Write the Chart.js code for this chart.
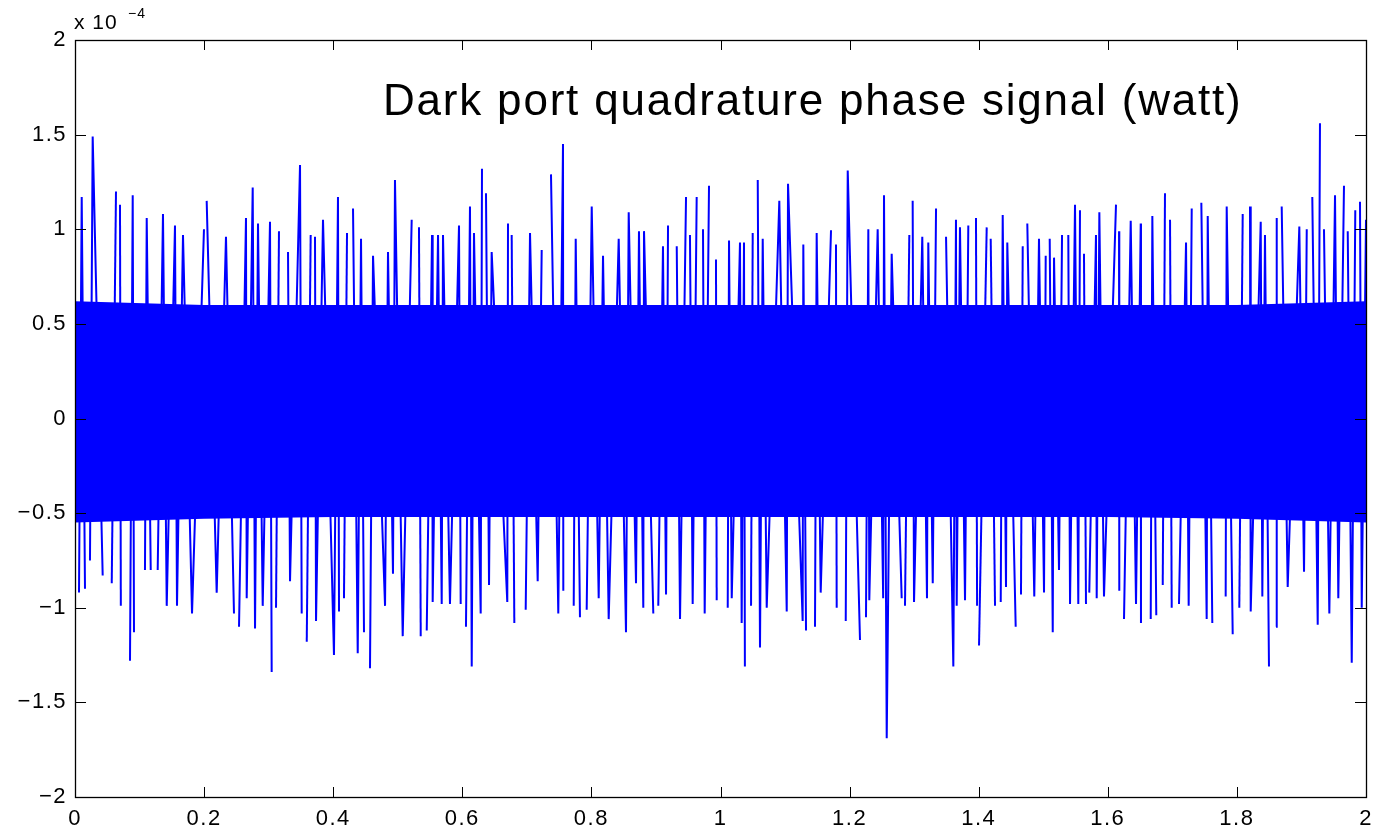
<!DOCTYPE html>
<html>
<head>
<meta charset="utf-8">
<script src="https://cdn.jsdelivr.net/npm/chart.js@4.4.0/dist/chart.umd.min.js"></script>
<style>
  html, body { margin: 0; padding: 0; background: #fff; }
  #wrap { width: 1387px; height: 830px; }
</style>
</head>
<body>
<div id="wrap"><canvas id="chart" width="1387" height="830"></canvas></div>
<script>
// time (s) and value (x 1e-4 W) of the positive spikes
const upperTimes = [0.0104,0.0274,0.0635,0.0697,0.0894,0.1111,0.1363,0.1549,0.1673,0.1998,0.2040,0.2339,0.2649,0.2753,0.2835,0.3021,0.3160,0.3300,0.3486,0.3651,0.3718,0.3842,0.4074,0.4214,0.4307,0.4431,0.4617,0.4849,0.4957,0.5216,0.5294,0.5329,0.5531,0.5624,0.5701,0.5949,0.6119,0.6181,0.6305,0.6367,0.6455,0.6708,0.6765,0.7049,0.7230,0.7374,0.7560,0.7757,0.8005,0.8180,0.8423,0.8578,0.8737,0.8815,0.9109,0.9187,0.9322,0.9466,0.9527,0.9631,0.9729,0.9822,0.9930,1.0132,1.0302,1.0364,1.0499,1.0577,1.0654,1.0911,1.1046,1.1283,1.1490,1.1712,1.1789,1.1971,1.2290,1.2435,1.2533,1.2652,1.2925,1.2977,1.3126,1.3219,1.3339,1.3427,1.3494,1.3648,1.3710,1.3839,1.3958,1.4124,1.4186,1.4372,1.4443,1.4682,1.4753,1.4934,1.5038,1.5100,1.5167,1.5291,1.5388,1.5492,1.5569,1.5631,1.5817,1.5869,1.6127,1.6174,1.6355,1.6510,1.6690,1.6886,1.6964,1.7212,1.7300,1.7397,1.7449,1.7548,1.7842,1.8090,1.8203,1.8369,1.8435,1.8617,1.8694,1.8967,1.9082,1.9168,1.9287,1.9349,1.9520,1.9659,1.9717,1.9834,1.9907,2.0000];
const upperPeaks = [1.17,1.49,1.20,1.13,1.18,1.06,1.08,1.02,0.97,1.00,1.15,0.96,1.06,1.22,1.03,1.04,0.99,0.88,1.34,0.97,0.96,1.05,1.17,0.98,1.11,0.95,0.86,0.88,1.26,1.05,1.14,1.01,0.97,0.97,0.97,1.02,1.12,0.98,1.32,1.19,0.88,1.03,0.97,0.98,0.89,1.29,1.45,0.95,1.12,0.86,0.95,1.09,0.99,0.99,0.91,1.02,0.91,1.17,0.97,1.17,1.00,1.23,0.84,0.94,0.93,0.93,0.98,1.26,0.95,1.15,1.24,0.92,0.98,0.995,0.92,1.31,1.00,1.00,1.18,0.87,0.97,1.15,0.96,0.93,1.11,0.96,0.96,1.05,1.01,1.02,1.06,1.01,0.95,1.075,0.93,0.91,1.03,0.95,0.86,0.95,0.85,0.97,0.97,1.13,1.10,0.87,0.97,1.09,1.13,0.99,1.045,1.03,1.07,1.19,1.05,0.93,1.11,1.20,1.14,1.07,1.12,1.08,1.12,1.04,0.97,1.06,1.12,1.015,1.00,1.17,1.56,1.00,1.18,1.23,0.99,1.10,1.145,1.05];

// time (s) and value of the negative spikes
const lowerTimes = [0.0015,0.0062,0.0155,0.0232,0.0429,0.0569,0.0710,0.0790,0.0852,0.0914,0.1084,0.1173,0.1281,0.1421,0.1580,0.1813,0.2195,0.2463,0.2541,0.2660,0.2789,0.2908,0.3047,0.3114,0.3331,0.3512,0.3590,0.3734,0.4012,0.4090,0.4167,0.4380,0.4477,0.4570,0.4803,0.4926,0.5077,0.5356,0.5449,0.5541,0.5681,0.5809,0.5975,0.6057,0.6146,0.6285,0.6414,0.6697,0.6806,0.6982,0.7168,0.7487,0.7565,0.7726,0.7823,0.7927,0.8113,0.8268,0.8536,0.8691,0.8804,0.8959,0.9036,0.9156,0.9373,0.9569,0.9755,0.9941,1.0112,1.0174,1.0328,1.0378,1.0473,1.0612,1.0716,1.1026,1.1273,1.1325,1.1397,1.1464,1.1552,1.1800,1.1862,1.1940,1.2161,1.2254,1.2305,1.2520,1.2575,1.2807,1.2858,1.2998,1.3199,1.3288,1.3607,1.3659,1.3788,1.3975,1.4005,1.4253,1.4341,1.4423,1.4573,1.4655,1.4861,1.5012,1.5147,1.5244,1.5415,1.5543,1.5662,1.5713,1.5828,1.5941,1.6178,1.6251,1.6437,1.6514,1.6665,1.6751,1.6851,1.6990,1.7103,1.7253,1.7532,1.7619,1.7826,1.7935,1.8037,1.8214,1.8394,1.8497,1.8606,1.8787,1.9040,1.9252,1.9432,1.9571,1.9779,1.9934];
const lowerPeaks = [-0.95,-0.92,-0.90,-0.75,-0.83,-0.87,-0.99,-0.89,-1.28,-1.13,-0.80,-0.80,-0.80,-0.99,-0.99,-1.03,-0.92,-1.03,-1.10,-0.95,-1.11,-0.99,-1.34,-1.00,-0.86,-1.03,-1.18,-1.07,-1.25,-1.02,-0.95,-1.24,-1.13,-1.32,-0.99,-0.82,-1.15,-1.15,-1.12,-0.97,-0.98,-0.98,-0.98,-1.10,-1.31,-1.03,-0.88,-0.97,-1.08,-1.01,-0.86,-1.03,-0.91,-0.99,-1.05,-1.01,-0.95,-1.06,-1.13,-0.87,-1.00,-1.03,-0.99,-0.93,-1.06,-0.98,-1.03,-0.96,-1.00,-0.95,-1.08,-1.31,-0.99,-1.21,-1.00,-1.02,-1.07,-1.12,-1.05,-1.10,-0.92,-1.00,-1.04,-1.07,-1.17,-1.05,-0.96,-0.95,-1.69,-0.95,-0.99,-0.97,-0.95,-0.87,-1.31,-0.99,-0.96,-0.99,-1.20,-0.99,-0.97,-0.89,-1.10,-0.93,-0.94,-0.92,-1.13,-0.80,-0.98,-0.98,-0.98,-0.92,-0.95,-0.94,-0.91,-1.06,-0.98,-1.08,-1.06,-1.04,-0.88,-1.00,-0.98,-0.99,-1.06,-1.08,-0.94,-1.14,-1.00,-1.02,-0.94,-1.31,-1.10,-0.89,-0.81,-1.09,-1.03,-0.95,-1.29,-1.00];

// edges of the solid core of the trace
const bandTimes  = [0, 0.2, 0.4, 0.6, 0.8, 1.0, 1.2, 1.4, 1.6, 1.8, 2.0];
const bandTop    = [0.62, 0.6, 0.6, 0.6, 0.6, 0.6, 0.6, 0.6, 0.6, 0.6, 0.62];
const bandBottom = [-0.55, -0.53, -0.52, -0.52, -0.52, -0.52, -0.52, -0.52, -0.52, -0.53, -0.55];

const xTicks = [0, 0.2, 0.4, 0.6, 0.8, 1, 1.2, 1.4, 1.6, 1.8, 2];
const yTicks = [-2, -1.5, -1, -0.5, 0, 0.5, 1, 1.5, 2];

const titleText = 'Dark port quadrature phase signal (watt)';
const FONT = "'Liberation Sans', Arial, Helvetica, sans-serif";
const BLUE = '#0000ff';

const signal = upperTimes.map((t, i) => ({ x: t, y: upperPeaks[i] }))
  .concat(lowerTimes.map((t, i) => ({ x: t, y: lowerPeaks[i] })))
  .sort((a, b) => a.x - b.x);

const fmt = v => {
  const s = String(Number(v.toFixed(1)));
  return v < 0 ? '\u2212' + s.slice(1) : s;
};

// slightly wider tick text, like the printed MATLAB font
const spacing = {
  id: 'spacing',
  beforeDraw(chart) { chart.ctx.letterSpacing = '1.5px'; }
};

// box, inward ticks, in-axes title and exponent label
const matlabFrame = {
  id: 'matlabFrame',
  afterDatasetsDraw(chart) {
    const { ctx, chartArea: a, scales } = chart;
    ctx.save();
    ctx.strokeStyle = '#000';
    ctx.lineWidth = 1;
    xTicks.forEach(t => {
      const px = Math.round(scales.x.getPixelForValue(t)) + 0.5;
      ctx.beginPath();
      ctx.moveTo(px, a.bottom); ctx.lineTo(px, a.bottom - 10);
      ctx.moveTo(px, a.top); ctx.lineTo(px, a.top + 10);
      ctx.stroke();
    });
    yTicks.forEach(t => {
      const py = Math.round(scales.y.getPixelForValue(t)) + 0.5;
      ctx.beginPath();
      ctx.moveTo(a.left, py); ctx.lineTo(a.left + 11, py);
      ctx.moveTo(a.right, py); ctx.lineTo(a.right - 11, py);
      ctx.stroke();
    });
    ctx.lineWidth = 1.3;
    ctx.strokeRect(a.left + 0.5, a.top + 0.5, a.right - a.left, a.bottom - a.top);

    ctx.fillStyle = '#000';
    ctx.textBaseline = 'alphabetic';
    ctx.textAlign = 'left';
    ctx.letterSpacing = '1.8px';
    ctx.font = '44px ' + FONT;
    ctx.fillText(titleText, 383, 115);
    ctx.letterSpacing = '1px';
    ctx.font = '21px ' + FONT;
    ctx.fillText('x 10', 74, 29);
    ctx.font = '14px ' + FONT;
    ctx.fillText('\u22124', 128, 18);
    ctx.restore();
  }
};

const ctx = document.getElementById('chart').getContext('2d');
new Chart(ctx, {
  type: 'line',
  data: {
    datasets: [
      {
        label: 'core top',
        data: bandTimes.map((t, i) => ({ x: t, y: bandTop[i] })),
        borderWidth: 0,
        pointRadius: 0,
        backgroundColor: BLUE,
        fill: '+1'
      },
      {
        label: 'core bottom',
        data: bandTimes.map((t, i) => ({ x: t, y: bandBottom[i] })),
        borderWidth: 0,
        pointRadius: 0,
        fill: false
      },
      {
        label: 'signal',
        data: signal,
        borderColor: BLUE,
        borderWidth: 2,
        pointRadius: 0,
        tension: 0,
        fill: false,
        // only draw strokes that swing through the core
        segment: {
          borderColor: c => (c.p0.parsed.y * c.p1.parsed.y > 0 ? 'rgba(0,0,0,0)' : BLUE)
        }
      }
    ]
  },
  options: {
    responsive: false,
    animation: false,
    events: [],
    layout: { padding: { top: 40, right: 21, left: 0, bottom: 0 } },
    plugins: { legend: { display: false }, tooltip: { enabled: false }, title: { display: false } },
    scales: {
      x: {
        type: 'linear',
        min: 0,
        max: 2,
        afterBuildTicks: s => { s.ticks = xTicks.map(v => ({ value: v })); },
        afterFit: s => { s.height = 33; },
        grid: { display: false, drawTicks: false },
        border: { display: false },
        ticks: { color: '#000', font: { family: FONT, size: 22 }, padding: 9, maxRotation: 0, callback: v => fmt(v) }
      },
      y: {
        type: 'linear',
        min: -2,
        max: 2,
        afterBuildTicks: s => { s.ticks = yTicks.map(v => ({ value: v })); },
        afterFit: s => { s.width = 75; },
        grid: { display: false, drawTicks: false },
        border: { display: false },
        ticks: { color: '#000', font: { family: FONT, size: 22 }, padding: 8, callback: v => fmt(v) }
      }
    }
  },
  plugins: [spacing, matlabFrame]
});
</script>
</body>
</html>
